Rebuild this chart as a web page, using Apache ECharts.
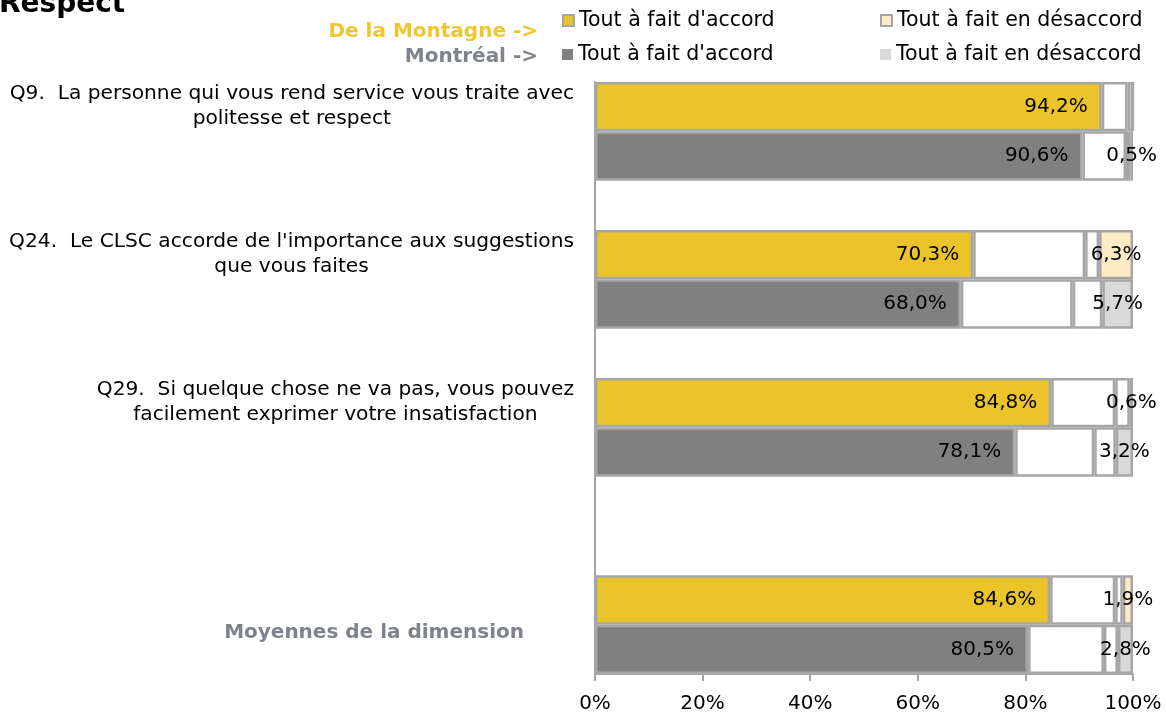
<!DOCTYPE html>
<html>
<head>
<meta charset="utf-8">
<script src="https://cdn.jsdelivr.net/npm/echarts@6/dist/echarts.min.js"></script>
<style>
  html, body { margin: 0; background: #fff; }
  #chart { width: 1166px; height: 719px; }
</style>
</head>
<body>
<div id="chart"></div>
<script>
var questions = [
  "Q9.  La personne qui vous rend service vous traite avec\npolitesse et respect",
  "Q24.  Le CLSC accorde de l'importance aux suggestions\nque vous faites",
  "Q29.  Si quelque chose ne va pas, vous pouvez\nfacilement exprimer votre insatisfaction",
  "Moyennes de la dimension"
];
var segNames = ["Tout à fait d'accord", "Plutôt d'accord", "Plutôt en désaccord", "Tout à fait en désaccord"];
var regionNames = ['De la Montagne', 'Montréal'];

// one array per answer, one value per question (Q9, Q24, Q29, Moyenne)
var montagneAccord = [94.2, 70.3, 84.8, 84.6];
var montagnePlutotAccord = [4.8, 20.8, 11.9, 12.1];
var montagnePlutotDesaccord = [1.0, 2.6, 2.7, 1.4];
var montagneDesaccord = [0, 6.3, 0.6, 1.9];

var montrealAccord = [90.6, 68.0, 78.1, 80.5];
var montrealPlutotAccord = [8.1, 20.8, 14.7, 14.1];
var montrealPlutotDesaccord = [0.8, 5.5, 4.0, 2.6];
var montrealDesaccord = [0.5, 5.7, 3.2, 2.8];

var xTicks = [0, 20, 40, 60, 80, 100];

// rows from the top: [question, region], null = empty row
var rows = [[0, 0], [0, 1], null, [1, 0], [1, 1], null, [2, 0], [2, 1], null, null, [3, 0], [3, 1]];

var values = [
  [montagneAccord, montagnePlutotAccord, montagnePlutotDesaccord, montagneDesaccord],
  [montrealAccord, montrealPlutotAccord, montrealPlutotDesaccord, montrealDesaccord]
];
var colors = [
  ['#EBC42B', '#FFFFFF', '#FFFFFF', '#FDEBC5'],
  ['#808080', '#FFFFFF', '#FFFFFF', '#D9D9D9']
];

var font = 'DejaVu Sans';
var fmt = function (v) { return v.toFixed(1).replace('.', ',') + '%'; };

var series = [];
for (var r = 0; r < 2; r++) {
  for (var s = 0; s < 4; s++) {
    var label = { show: false };
    if (s === 0) {
      label = { show: true, position: 'insideRight', distance: 14, color: '#000', fontSize: 20, fontFamily: font,
        formatter: function (p) { return fmt(p.value); } };
    } else if (s === 3) {
      label = { show: true, position: 'inside', color: '#000', fontSize: 20, fontFamily: font,
        formatter: function (p) { return p.value > 0 ? fmt(p.value) : ''; } };
    }
    series.push({
      name: regionNames[r] + '|' + segNames[s],
      type: 'bar',
      stack: 'total',
      barCategoryGap: '0%',
      itemStyle: { color: colors[r][s], borderColor: '#A6A6A6', borderWidth: 2.5 },
      label: label,
      emphasis: { disabled: true },
      data: rows.map(function (row) {
        return row && row[1] === r ? values[r][s][row[0]] : '-';
      })
    });
  }
}

function legendAt(name, left, top, plain) {
  var l = {
    data: [name], left: left, top: top, padding: 0,
    itemWidth: 11, itemHeight: 11, icon: 'rect', selectedMode: false,
    textStyle: { fontSize: 20.5, color: '#000', fontFamily: font },
    formatter: function (n) { return n.split('|')[1]; }
  };
  if (plain) l.itemStyle = { borderWidth: 0 };
  return l;
}

var myChart = echarts.init(document.getElementById('chart'));
var option = {
  animation: false,
  textStyle: { fontFamily: font },
  title: [
    { text: 'Respect', left: -1, top: -9, padding: 0, textStyle: { fontSize: 28, fontWeight: 'bold', color: '#000', fontFamily: font } },
    { text: 'De la Montagne ->', right: 628, top: 22, padding: 0, textStyle: { fontSize: 20, fontWeight: 'bold', color: '#F0C630', fontFamily: font } },
    { text: 'Montréal ->', right: 628, top: 47, padding: 0, textStyle: { fontSize: 20, fontWeight: 'bold', color: '#7F838B', fontFamily: font } }
  ],
  legend: [
    legendAt(series[0].name, 562, 10, false),
    legendAt(series[3].name, 880, 10, false),
    legendAt(series[4].name, 562, 44, true),
    legendAt(series[7].name, 880, 44, true)
  ],
  grid: { left: 595, right: 33, top: 82, bottom: 45 },
  xAxis: {
    type: 'value', min: xTicks[0], max: xTicks[xTicks.length - 1], interval: 20,
    axisLine: { show: true, lineStyle: { color: '#A6A6A6', width: 2 } },
    axisTick: { show: true, length: 7, lineStyle: { color: '#A6A6A6', width: 2 } },
    splitLine: { show: false },
    axisLabel: { margin: 20, fontSize: 20, color: '#000', formatter: '{value}%' }
  },
  yAxis: {
    type: 'category', inverse: true,
    data: rows.map(function (row, i) { return 'r' + i; }),
    axisLine: { show: true, lineStyle: { color: '#A6A6A6', width: 2 } },
    axisTick: { show: false },
    axisLabel: {
      interval: 0, margin: 21, align: 'right',
      formatter: function (v, i) {
        var row = rows[i];
        if (!row) return '';
        if (row[0] === 3) return row[1] === 1 ? '{m|' + questions[3] + '}' : '';
        if (row[1] !== 0) return '';
        return questions[row[0]].split('\n').map(function (l) { return '{q|' + l + '}'; }).join('\n');
      },
      rich: {
        q: { fontSize: 20.2, lineHeight: 25, color: '#000', align: 'center', fontFamily: font },
        m: { fontSize: 20, fontWeight: 'bold', color: '#7F838B', fontFamily: font, padding: [0, 50, 34, 0] }
      }
    }
  },
  series: series
};
option && myChart.setOption(option);
</script>
</body>
</html>
